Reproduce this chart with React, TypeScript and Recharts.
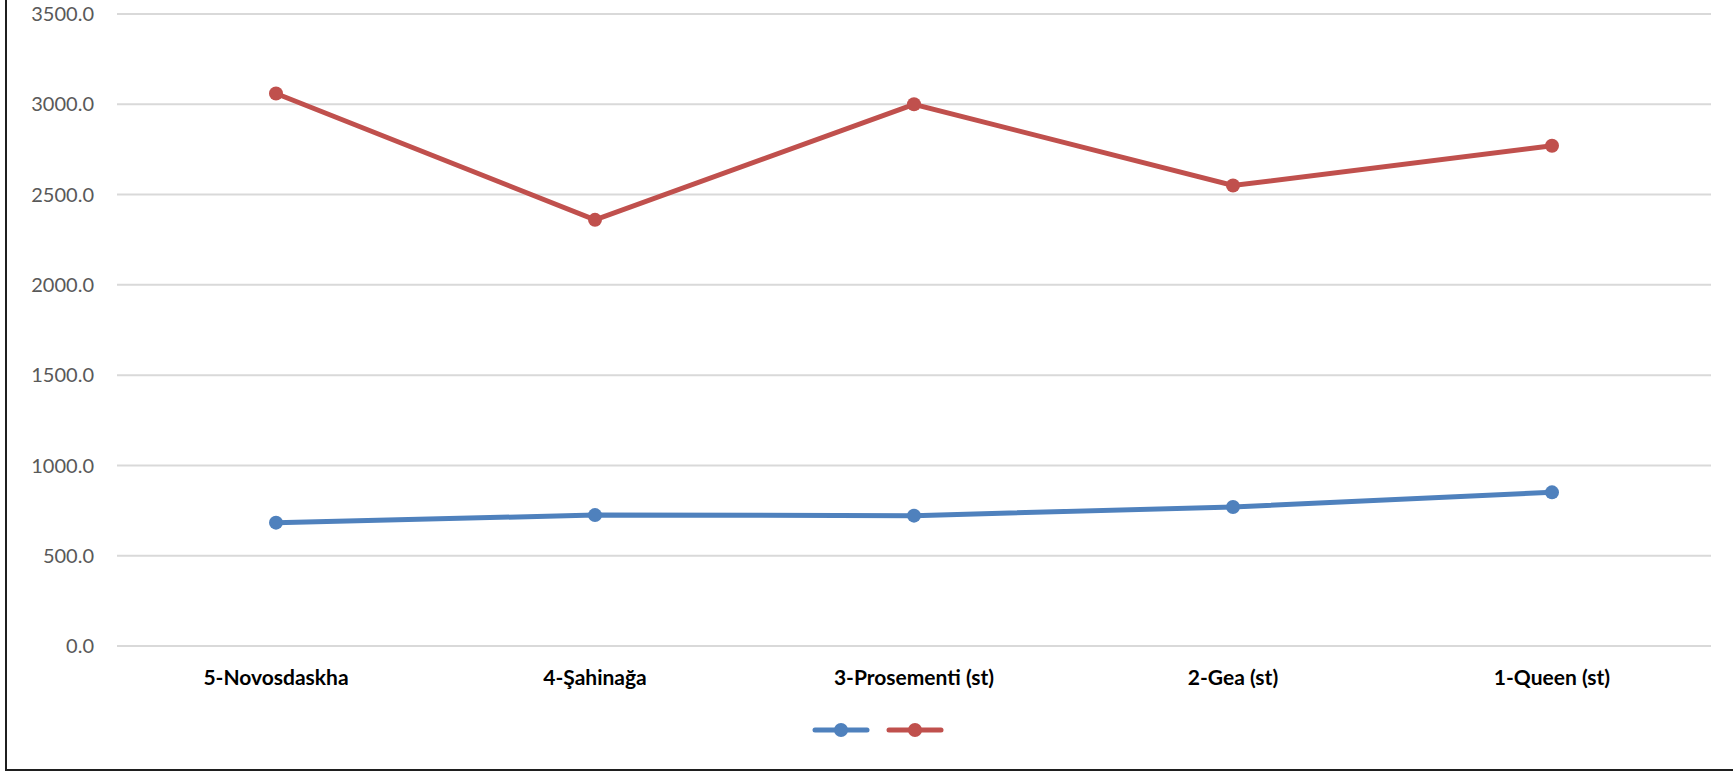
import React from 'react';
import { LineChart, Line, XAxis, YAxis, CartesianGrid, Legend } from 'recharts';

// Categories along the x axis
const categories = ['5-Novosdaskha', '4-Şahinağa', '3-Prosementi (st)', '2-Gea (st)', '1-Queen (st)'];

// Series values
const blueValues = [683, 725, 722, 770, 851];
const redValues = [3060, 2360, 3000, 2550, 2770];

const yTicks = [0, 500, 1000, 1500, 2000, 2500, 3000, 3500];

const BLUE = '#4F81BD';
const RED = '#C0504D';

const data = categories.map((name, i) => ({
  name,
  blue: blueValues[i],
  red: redValues[i],
}));

const LegendContent = (props: any) => {
  const items = props.payload || [];
  return (
    <div style={{ display: 'flex', justifyContent: 'center', paddingLeft: 45 }}>
      {items.map((item: any, i: number) => (
        <svg key={i} width={58} height={18} style={{ marginRight: i === items.length - 1 ? 0 : 16 }}>
          <line x1={3} y1={9} x2={55} y2={9} stroke={item.color} strokeWidth={5} strokeLinecap="round" />
          <circle cx={29} cy={9} r={7} fill={item.color} />
        </svg>
      ))}
    </div>
  );
};

export default function App() {
  return (
    <div style={{ position: 'absolute', left: 0, top: 0, width: 1733, height: 773, background: '#fff' }}>
      {/* frame */}
      <div
        style={{
          position: 'absolute',
          left: 5,
          top: 0,
          width: 1728,
          height: 771,
          borderLeft: '2px solid #1f1f1f',
          borderBottom: '2px solid #1f1f1f',
          boxSizing: 'border-box',
        }}
      />
      <div style={{ position: 'absolute', left: 0, top: 0 }}>
        <LineChart width={1733} height={773} data={data} margin={{ top: 14, right: 22, left: 0, bottom: 12 }}>
          <CartesianGrid horizontal vertical={false} stroke="#D9D9D9" strokeWidth={2} />
          <XAxis
            dataKey="name"
            axisLine={false}
            tickLine={false}
            tickSize={0}
            tickMargin={24}
            height={75}
            interval={0}
            padding={{ left: 159, right: 159 }}
            tick={{ fill: '#000', fontSize: 21, fontWeight: 'bold', fontFamily: 'Lato, sans-serif' }}
          />
          <YAxis
            domain={[0, 3500]}
            ticks={yTicks}
            axisLine={false}
            tickLine={false}
            tickSize={0}
            tickMargin={23}
            width={117}
            tickFormatter={(v: number) => v.toFixed(1)}
            tick={{ fill: '#595959', fontSize: 20, fontFamily: 'Lato, sans-serif' }}
          />
          <Legend verticalAlign="bottom" height={40} content={<LegendContent />} />
          <Line
            dataKey="blue"
            name=" "
            stroke={BLUE}
            strokeWidth={5}
            dot={{ r: 7, fill: BLUE, stroke: BLUE, strokeWidth: 0 }}
            activeDot={false}
            isAnimationActive={false}
          />
          <Line
            dataKey="red"
            name="  "
            stroke={RED}
            strokeWidth={5}
            dot={{ r: 7, fill: RED, stroke: RED, strokeWidth: 0 }}
            activeDot={false}
            isAnimationActive={false}
          />
        </LineChart>
      </div>
    </div>
  );
}
